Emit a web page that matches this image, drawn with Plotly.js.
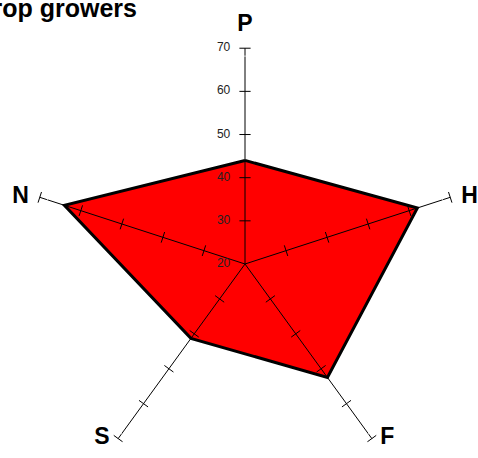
<!DOCTYPE html>
<html>
<head>
<meta charset="utf-8">
<script src="https://cdn.plot.ly/plotly-3.0.1.min.js"></script>
<style>
html,body{margin:0;padding:0;overflow:hidden;background:#fff;width:478px;height:458px;}
#chart{position:absolute;left:-20px;top:0;width:530px;height:530px;}
</style>
</head>
<body>
<div id="chart"></div>
<script>
const categories = ['P', 'H', 'F', 'S', 'N'];
const values = [44, 62, 52.5, 41.3, 64];
const radialTicks = [20, 30, 40, 50, 60, 70];
const spokeTicks = [30, 40, 50, 60, 70];
const titleText = 'Crop growers';
const rangeMax = 77;

const txtFont = 'Liberation Sans, Arial, sans-serif';
const traces = [];
// filled polygon
traces.push({
  type: 'scatterpolar',
  r: values.concat([values[0]]),
  theta: categories.concat([categories[0]]),
  mode: 'lines',
  fill: 'toself',
  fillcolor: '#ff0000',
  line: {color: '#000000', width: 3},
  hoverinfo: 'skip',
  showlegend: false
});
// spokes with tick marks
categories.forEach(function (cat, i) {
  const rr = [radialTicks[0]].concat(spokeTicks);
  traces.push({
    type: 'scatterpolar',
    r: rr,
    theta: rr.map(function () { return cat; }),
    mode: 'lines+markers',
    line: {color: '#000000', width: 1},
    marker: {
      symbol: 'line-ew',
      size: 8,
      angle: i * 360 / categories.length,
      color: '#000000',
      opacity: rr.map(function (v, k) { return k === 0 ? 0 : 1; }),
      line: {color: '#000000', width: 1}
    },
    cliponaxis: false,
    hoverinfo: 'skip',
    showlegend: false
  });
});
// radial tick labels along the P axis
traces.push({
  type: 'scatterpolar',
  r: radialTicks,
  theta: radialTicks.map(function () { return categories[0]; }),
  mode: 'markers+text',
  text: radialTicks.map(String),
  textposition: 'middle left',
  marker: {size: 22, color: 'rgba(0,0,0,0)'},
  textfont: {family: txtFont, size: 12, color: '#222222'},
  cliponaxis: false,
  hoverinfo: 'skip',
  showlegend: false
});
// axis name labels at the outer end of each spoke
const outer = spokeTicks[spokeTicks.length - 1];
traces.push({
  type: 'scatterpolar',
  r: categories.map(function () { return outer; }),
  theta: categories,
  mode: 'markers+text',
  text: categories,
  textposition: ['top center', 'middle right', 'middle right', 'middle left', 'middle left'],
  marker: {size: [16, 16, 12, 12, 16], color: 'rgba(0,0,0,0)'},
  textfont: {family: txtFont, size: 23, color: '#000000', weight: 'bold'},
  cliponaxis: false,
  hoverinfo: 'skip',
  showlegend: false
});

const layout = {
  width: 530,
  height: 530,
  margin: {l: 18.76, r: 18.76, t: 17.76, b: 19.76, pad: 0},
  paper_bgcolor: '#ffffff',
  showlegend: false,
  title: {
    text: titleText,
    font: {family: txtFont, size: 25, color: '#000000', weight: 'bold'},
    xref: 'container', x: 157 / 530, xanchor: 'right',
    yref: 'container', y: 1 - 8.5 / 530, yanchor: 'middle',
    pad: {t: 0, b: 0, l: 0, r: 0}
  },
  polar: {
    bgcolor: 'rgba(0,0,0,0)',
    radialaxis: {
      range: [20, rangeMax],
      visible: true,
      showticklabels: false,
      ticks: '',
      showline: false,
      showgrid: false
    },
    angularaxis: {
      type: 'category',
      categoryarray: categories,
      rotation: 90,
      direction: 'clockwise',
      showline: false,
      showgrid: false,
      showticklabels: false,
      ticks: ''
    }
  }
};

Plotly.newPlot('chart', traces, layout, {displayModeBar: false, staticPlot: true});
</script>
</body>
</html>
